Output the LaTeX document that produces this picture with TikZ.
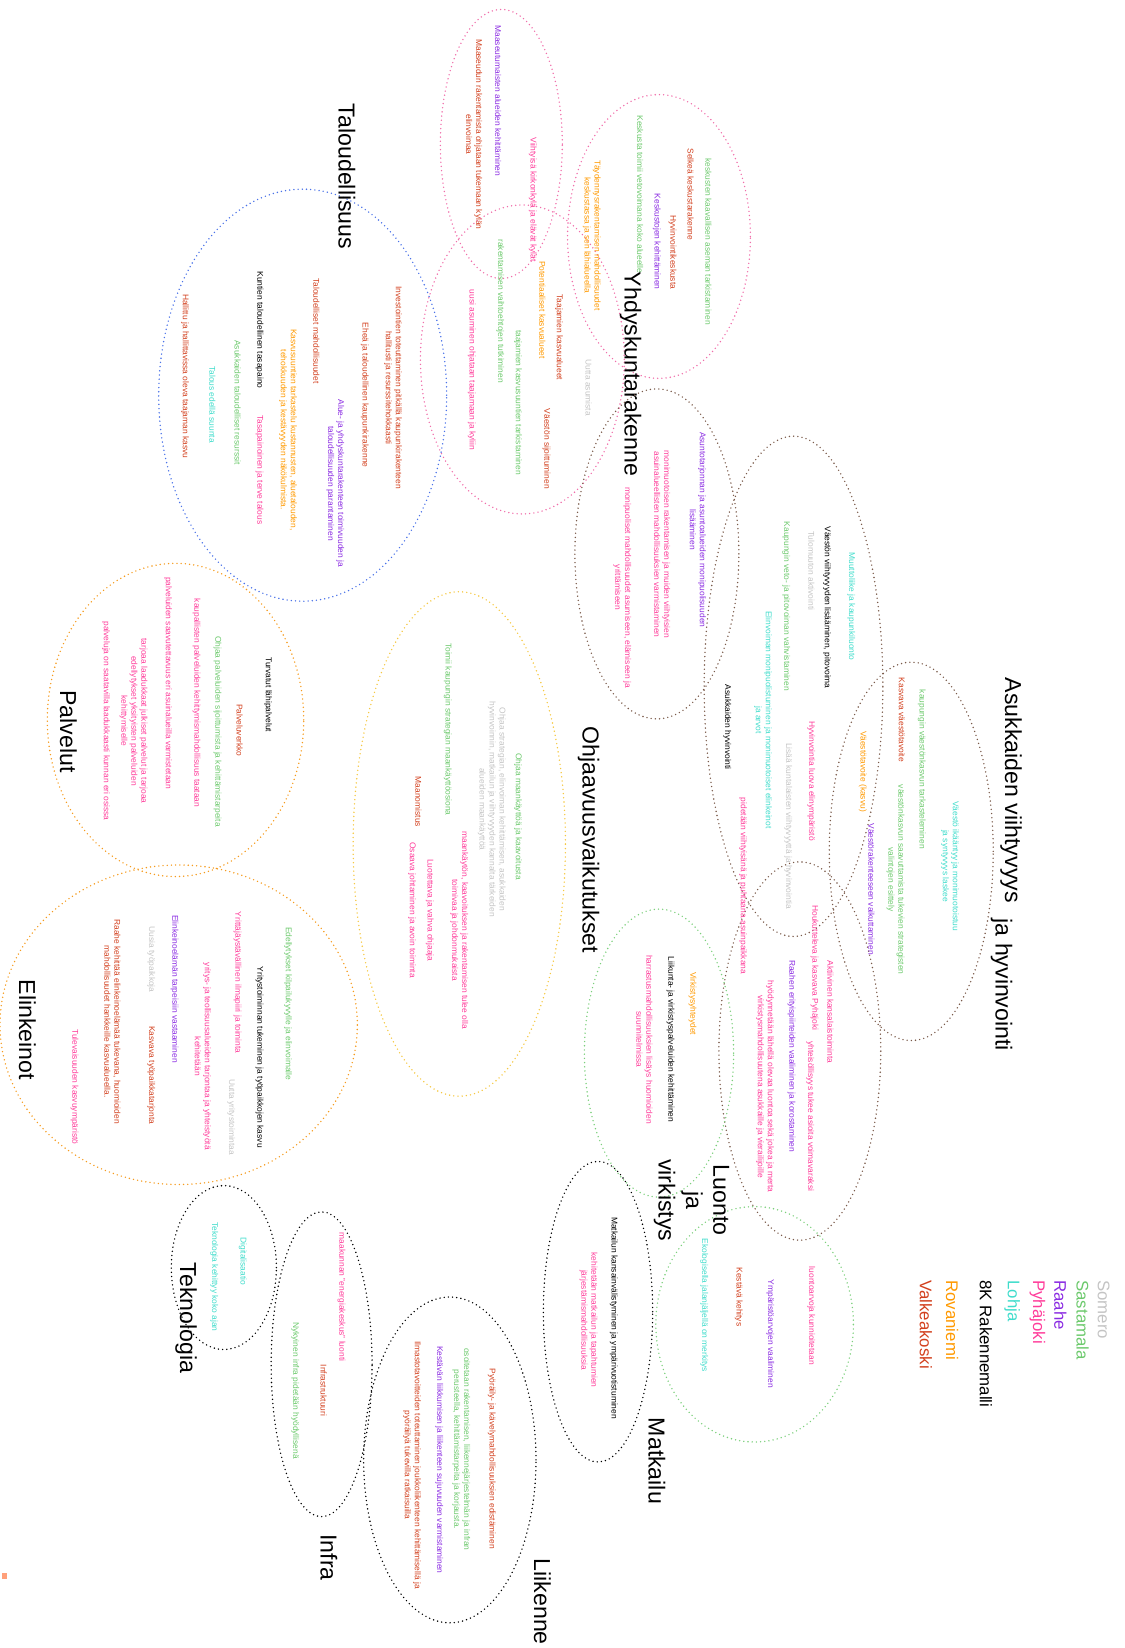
\documentclass[tikz,border=0pt]{standalone}
\usepackage{fontspec}
\setmainfont{Liberation Sans}
\usepackage{tikz}

% municipality colours
\definecolor{somero}{HTML}{C4C4C4}
\definecolor{sastamala}{HTML}{6CC96C}
\definecolor{raahe}{HTML}{8A2BE2}
\definecolor{pyhajoki}{HTML}{FF3C9A}
\definecolor{lohja}{HTML}{3FDCCB}
\definecolor{rmalli}{HTML}{000000}
\definecolor{rovaniemi}{HTML}{FF9900}
\definecolor{valkeakoski}{HTML}{D2401E}
% outline colours
\definecolor{pinkline}{HTML}{F06EAA}
\definecolor{blueline}{HTML}{4A72E8}
\definecolor{brownline}{HTML}{7A5A4A}
\definecolor{yellowline}{HTML}{F5C842}
\definecolor{orangeline}{HTML}{F59B1E}
\definecolor{greenline}{HTML}{7CCF7C}
\definecolor{markcol}{HTML}{FFA07A}

\begin{document}
\begin{tikzpicture}[x=1pt, y=-1pt,
    every node/.style={rotate=-90, align=center, inner sep=0pt, font=\fontsize{8}{9.5}\selectfont},
    theme/.style={font=\fontsize{22}{26}\selectfont},
    key/.style={anchor=west, font=\fontsize{16}{19}\selectfont},
    area/.style={line width=1.5pt, dash pattern=on 0pt off 4pt, line cap=round}]
    \useasboundingbox (0,0) rectangle (1070,1568);

    % Maaseutu
    \draw[area, pinkline] (477,137) ellipse [x radius=58pt, y radius=128pt];
    \node[raahe] (mas1) at (474,96) {Maaseutumaisten alueiden kehittäminen};
    \node[valkeakoski] (mas2) at (451,128) {Maaseudun rakentamista ohjataan tukemaan kylän\\elinvoimaa};
    \node[pyhajoki] (mas3) at (507,190) {Viihtyisä kirkonkylä ja elävät kylät};

    % Yhdyskuntarakenne
    \draw[area, pinkline] (627,225) ellipse [x radius=87pt, y radius=135pt];
    \draw[area, pinkline] (497,342) ellipse [x radius=97pt, y radius=147pt];
    \node[theme] (yhd) at (600,356) {Yhdyskuntarakenne};
    \node[sastamala] (yhd1) at (674,230) {keskusten kaavallisen aseman tarkistaminen};
    \node[valkeakoski] (yhd2) at (657,185) {Selkeä keskustarakenne};
    \node[valkeakoski] (yhd3) at (640,240) {Hyvinvointikeskusta};
    \node[raahe] (yhd4) at (625,230) {Keskustojen kehittäminen};
    \node[sastamala] (yhd5) at (609,185) {Keskusta toimii vetovoimana koko alueelle};
    \node[rovaniemi] (yhd6) at (563,224) {Täydennysrakentamisen mahdollisuudet\\keskustassa ja sen lähialueella};
    \node[valkeakoski] (yhd7) at (532,321) {Taajamien kasvualueet};
    \node[rovaniemi] (yhd8) at (516,295) {Potentiaaliset kasvualueet};
    \node[somero] (yhd9) at (560,369) {Uutta asumista};
    \node[sastamala] (yhd10) at (476,296) {rakentamisen vaihtoehtojen tutkiminen};
    \node[pyhajoki] (yhd11) at (449,352) {uusi asuminen ohjataan taajamaan ja kyliin};
    \node[sastamala] (yhd12) at (493,383) {taajamien kasvusuuntien tarkistaminen};
    \node[valkeakoski] (yhd13) at (520,427) {Väestön sijoittuminen};

    % Taloudellisuus
    \draw[area, blueline] (288,376) ellipse [x radius=137pt, y radius=196pt];
    \node[theme] (tal) at (330,168) {Taloudellisuus};
    \node[valkeakoski] (tal1) at (374,369) {Investointien toteuttaminen pitkällä kaupunkirakenteen\\hallitusti ja resurssitehokkaasti};
    \node[valkeakoski] (tal2) at (347,376) {Eheä ja taloudellinen kaupunkirakenne};
    \node[raahe] (tal3) at (319,460) {Alue- ja yhdyskuntarakenteen toimivuuden ja\\taloudellisuuden parantaminen};
    \node[valkeakoski] (tal4) at (301,315) {Taloudelliset mahdollisuudet};
    \node[rovaniemi] (tal5) at (274,409) {Kasvusuuntien tarkastelu kustannusten, aluetalouden,\\tehokkuuden ja kestävyyden näkökulmista.};
    \node[rmalli] (tal6) at (247,314) {Kuntien taloudellinen tasapaino};
    \node[pyhajoki] (tal7) at (247,447) {Tasapainoinen ja terve talous};
    \node[sastamala] (tal8) at (226,383) {Asukkaiden taloudelliset resurssit};
    \node[lohja] (tal9) at (202,385) {Talous edellä suunta};
    \node[valkeakoski] (tal10) at (176,358) {Hallittu ja hallittavissa oleva taajaman kasvu};

    % Asuminen
    \draw[area, brownline] (625,527) ellipse [x radius=78pt, y radius=157pt];
    \node[raahe] (asm1) at (664,504) {Asuntotarjonnan ja asuntoalueiden monipuolisuuden\\lisääminen};
    \node[pyhajoki] (asm2) at (630,518) {monimuotoisen rakentamisen ja muiden viihtyisien\\asuinalueellisten mahdollisuuksien varmistaminen};
    \node[pyhajoki] (asm3) at (592,559) {monipuoliset mahdollisuudet asumiseen, elämiseen ja\\yrittämiseen};

    % Asukkaiden viihtyvyys ja hyvinvointi
    \draw[area, brownline] (755,653) ellipse [x radius=85pt, y radius=238pt];
    \draw[area, brownline] (761,1000) ellipse [x radius=77pt, y radius=180pt];
    \draw[area, brownline] (867,810) ellipse [x radius=78pt, y radius=180pt];
    \node[theme] (asu) at (962,752) {Asukkaiden viihtyvyys};
    \node[theme] (asub) at (953,937) {ja hyvinvointi};
    \node[lohja] (asu1) at (810,577) {Muuttoliike ja kaupunkiluonto};
    \node[rmalli] (asu2) at (787,578) {Väestön viihtyvyyden lisääminen, pitovoima};
    \node[somero] (asu3) at (772,543) {Tulomuuton aktivointi};
    \node[sastamala] (asu4) at (748,577) {Kaupungin veto- ja pitovoiman vahvistaminen};
    \node[lohja] (asu5) at (726,685) {Elinvoiman monipuolistuminen ja monimuotoiset elinkeinot\\ja arvot};
    \node[rmalli] (asu6) at (692,692) {Asukkaiden hyvinvointi};
    \node[pyhajoki] (asu7) at (772,743) {Hyvinvointia luova elinympäristö};
    \node[somero] (asu8) at (750,786) {Lisää kuntalaisten viihtyvyyttä ja hyvinvointia};
    \node[rovaniemi] (asu9) at (821,734) {Väestötavoite (kasvu)};
    \node[pyhajoki] (asu10) at (707,843) {pidetään viihtyisänä ja puhtaana asuinpaikkana};
    \node[sastamala] (asu11) at (877,732) {kaupungin väestönkasvun tarkasteleminen};
    \node[valkeakoski] (asu12) at (858,685) {Kasvava väestötavoite};
    \node[lohja] (asu13) at (904,824) {Väestö ikääntyy ja monimuotoistuu\\ja syntyvyys laskee};
    \node[sastamala] (asu14) at (852,837) {väestönkasvun saavuttamista tukevien strategisten\\valintojen esittely};
    \node[raahe] (asu15) at (829,846) {Väestörakenteeseen vaikuttaminen};
    \node[pyhajoki] (asu16) at (790,963) {Aktiivinen kansalaistoiminta};
    \node[pyhajoki] (asu17) at (775,921) {Houkutteleva ja kasvava Pyhäjoki};
    \node[pyhajoki] (asu18) at (771,1062) {yhteisöllisyys tukee asioita voimavaraksi};
    \node[raahe] (asu19) at (753,1005) {Raahen erityispiirteiden vaaliminen ja korostaminen};
    \node[pyhajoki] (asu20) at (728,1034) {hyödynnetään lähellä olevaa luontoa sekä jokea ja merta\\virkistysmahdollisuutena asukkaille ja vierailijoille};

    % Ohjaavuusvaikutukset
    \draw[area, yellowline] (437,803) ellipse [x radius=101pt, y radius=240pt];
    \node[theme] (ohj) at (560,799) {Ohjaavuusvaikutukset};
    \node[sastamala] (ohj1) at (493,777) {Ohjaa maankäyttöä ja kaavoitusta};
    \node[somero] (ohj2) at (468,770) {Ohjaa strategian, elinvoiman kehittämisen, asukkaiden\\hyvinvoinnin, matkailun ja viihtyvyyden kannalta tärkeiden\\alueiden maankäyttöä};
    \node[sastamala] (ohj3) at (426,694) {Toimii kaupungin strategian maankäyttöosiona};
    \node[valkeakoski] (ohj4) at (398,763) {Maanomistus};
    \node[pyhajoki] (ohj5) at (437,885) {maankäytön, kaavoituksen ja rakentamisen tulee olla\\toimivaa ja johdonmukaista};
    \node[pyhajoki] (ohj6) at (409,866) {Luotettava ja vahva ohjaaja};
    \node[pyhajoki] (ohj7) at (392,866) {Osaava johtaminen ja avoin toiminta};

    % Palvelut
    \draw[area, orangeline] (167,685) ellipse [x radius=122pt, y radius=149pt];
    \node[theme] (pal) at (65,696) {Palvelut};
    \node[rmalli] (pal1) at (255,661) {Turvatut lähipalvelut};
    \node[valkeakoski] (pal2) at (228,695) {Palveluverkko};
    \node[sastamala] (pal3) at (207,696) {Ohjaa palveluiden sijoittumista ja kehittämistarpeita};
    \node[pyhajoki] (pal4) at (187,669) {kaupallisten palveluiden kehittymismahdollisuus taataan};
    \node[pyhajoki] (pal5) at (160,650) {palveluiden saavutettavuus eri asuinalueilla varmistetaan};
    \node[pyhajoki] (pal6) at (127,686) {tarjoaa laadukkaat julkiset palvelut ja tarjoaa\\edellytykset yksityisten palveluiden\\kehittymiselle};
    \node[pyhajoki] (pal7) at (101,686) {palveluja on saatavilla laadukkaasti kunnan eri osissa};

    % Elinkeinot
    \draw[area, orangeline] (170,975) ellipse [x radius=170pt, y radius=152pt];
    \node[theme] (eli) at (26,980) {Elinkeinot};
    \node[sastamala] (eli1) at (274,955) {Edellytykset kilpailukyvylle ja elinvoimalle};
    \node[rmalli] (eli2) at (247,1006) {Yritystoiminnan tukeminen ja työpaikkojen kasvu};
    \node[somero] (eli3) at (220,1063) {Uutta yritystoimintaa};
    \node[pyhajoki] (eli4) at (226,935) {Yrittäjäystävällinen ilmapiiri ja toiminta};
    \node[pyhajoki] (eli5) at (193,1005) {yritys- ja teollisuusalueiden tarjontaa ja yhteistyötä\\kehitetään};
    \node[raahe] (eli6) at (166,941) {Elinkeinoelämän tarpeisiin vastaaminen};
    \node[somero] (eli7) at (144,913) {Uusia työpaikkoja};
    \node[valkeakoski] (eli8) at (144,1023) {Kasvava työpaikkatarjonta};
    \node[valkeakoski] (eli9) at (107,972) {Raahe kehittää elinkeinoelämää tukevana, huomioiden\\mahdollisuudet hankkeille kasvualueella.};
    \node[pyhajoki] (eli10) at (71,1034) {Tulevaisuuden kasvuympäristö};

    % Luonto ja virkistys
    \draw[area, greenline] (627,1002) ellipse [x radius=71pt, y radius=137pt];
    \draw[area, greenline] (718,1260) ellipse [x radius=94pt, y radius=112pt];
    \node[theme] (luo) at (658,1142) {Luonto\\ja\\virkistys};
    \node[rovaniemi] (luo1) at (659,955) {Virkistysyhteydet};
    \node[rmalli] (luo2) at (638,989) {Liikunta- ja virkistyspalveluiden kehittäminen};
    \node[pyhajoki] (luo3) at (613,989) {harrastusmahdollisuuksien lisäys huomioiden\\suunnitelmissa};
    \node[pyhajoki] (luo4) at (772,1252) {luontoarvoja kunnioitetaan};
    \node[raahe] (luo5) at (733,1269) {Ympäristöarvojen vaaliminen};
    \node[valkeakoski] (luo6) at (703,1234) {Kestävä kehitys};
    \node[lohja] (luo7) at (670,1242) {Ekologisella jalanjäljellä on merkitys};

    % Matkailu
    \draw[area, black] (569,1248) ellipse [x radius=52pt, y radius=143pt];
    \node[theme] (mat) at (625,1390) {Matkailu};
    \node[rmalli] (mat1) at (584,1254) {Matkailun kansainvälistyminen ja ympärivuotistuminen};
    \node[pyhajoki] (mat2) at (560,1256) {kehitetään matkailun ja tapahtumien\\järjestämismahdollisuuksia};

    % Teknologia
    \draw[area, black] (213,1206) ellipse [x radius=50pt, y radius=78pt];
    \node[theme] (tek) at (177,1254) {Teknologia};
    \node[lohja] (tek1) at (231,1200) {Digitalisaatio};
    \node[lohja] (tek2) at (204,1215) {Teknologia kehittyy koko ajan};

    % Infra
    \draw[area, black] (306,1298) ellipse [x radius=48pt, y radius=145pt];
    \node[theme] (inf) at (313,1482) {Infra};
    \node[pyhajoki] (inf1) at (325,1234) {maakunnan ''energiakeskus'' luonti};
    \node[valkeakoski] (inf2) at (308,1323) {Infrastruktuuri};
    \node[sastamala] (inf3) at (281,1323) {Nykyinen infra pidetään hyödyllisenä};

    % Liikenne
    \draw[area, black] (428,1389) ellipse [x radius=82pt, y radius=155pt];
    \node[theme] (lii) at (516,1524) {Liikenne};
    \node[valkeakoski] (lii1) at (468,1388) {Pyöräily- ja kävelymahdollisuuksien edistäminen};
    \node[sastamala] (lii2) at (439,1379) {osoitetaan rakentamisen, liikennejärjestelmän ja infran\\perusteella, kehittämistarpeita ja korjausta.};
    \node[raahe] (lii3) at (418,1389) {Kestävän liikkumisen ja liikenteen sujuvuuden varmistaminen};
    \node[valkeakoski] (lii4) at (392,1394) {Ilmastotavoitteiden toteuttaminen joukkoliikenteen kehittämisellä ja\\pyöräilyä tukevilla ratkaisuilla};

    % Legend
    \node[key, somero] (lg1) at (1050,1218) {Somero};
    \node[key, sastamala] (lg2) at (1030,1218) {Sastamala};
    \node[key, raahe] (lg3) at (1009,1218) {Raahe};
    \node[key, pyhajoki] (lg4) at (987,1218) {Pyhäjoki};
    \node[key, lohja] (lg5) at (963,1218) {Lohja};
    \node[key, rmalli] (lg6) at (938,1218) {8K Rakennemalli};
    \node[key, rovaniemi] (lg7) at (906,1218) {Rovaniemi};
    \node[key, valkeakoski] (lg8) at (881,1218) {Valkeakoski};

    \fill[markcol] (2,1497) rectangle (7,1502);
\end{tikzpicture}
\end{document}
